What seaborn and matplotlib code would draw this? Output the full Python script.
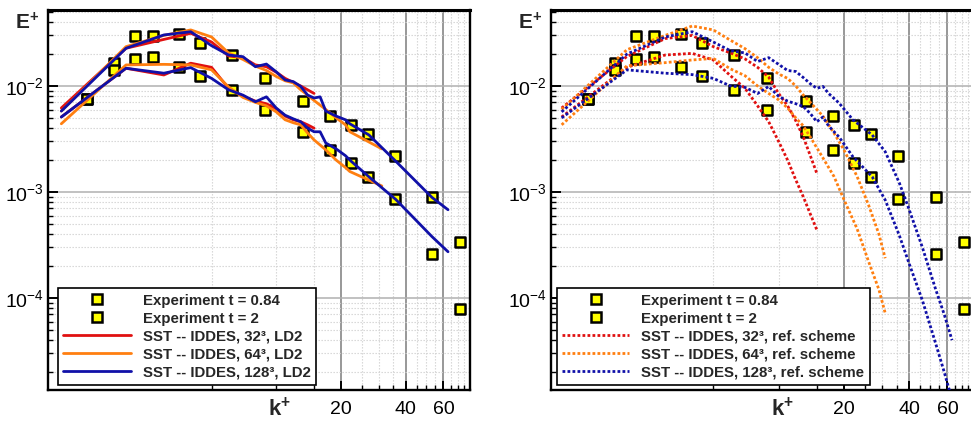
import numpy as np
import pandas as pd
import matplotlib
matplotlib.use("Agg")
import matplotlib.pyplot as plt
import seaborn as sns
from matplotlib.ticker import FixedLocator, NullFormatter, FixedFormatter
from matplotlib.lines import Line2D
from matplotlib.font_manager import FontProperties

# ---------------- data ----------------
k_exp = [1.32, 1.76, 2.21, 2.66, 3.54, 4.42, 6.22, 8.86, 13.36, 17.8, 22.3, 26.8, 35.6, 53.3, 71.4]
E_exp_084 = [0.00754, 0.01637, 0.0299, 0.0299, 0.0310, 0.0257, 0.01948, 0.01197, 0.00726, 0.00525,
             0.00432, 0.00350, 0.00219, 0.000903, 0.000335]
E_exp_2 = [0.00754, 0.01416, 0.0180, 0.01889, 0.0150, 0.0123, 0.0091, 0.00597, 0.00366, 0.00251,
           0.00189, 0.00139, 0.000853, 0.000258, 7.8e-5]

# left panel: LD2 scheme
k_32 = [1, 2, 3, 4, 5, 6, 7, 8, 9, 10, 11, 12, 13, 14, 15]
E32_084_ld2 = [0.0062, 0.0227, 0.0275, 0.0314, 0.0260, 0.0192, 0.0185, 0.0158, 0.0152, 0.0135,
               0.0118, 0.0108, 0.0100, 0.0092, 0.0085]
E32_2_ld2 = [0.0051, 0.0147, 0.0127, 0.0164, 0.0150, 0.0095, 0.0080, 0.0072, 0.0068, 0.0061,
             0.0052, 0.0048, 0.0046, 0.0043, 0.0040]

k_64 = [1, 2, 3, 4, 5, 6, 7, 8, 9, 10, 11, 12, 13, 14, 15, 17, 19, 21, 22, 31]
E64_084_ld2 = [0.0058, 0.0235, 0.0300, 0.0338, 0.0290, 0.0205, 0.0178, 0.0154, 0.0140, 0.0123,
               0.0112, 0.0107, 0.0092, 0.0082, 0.0073, 0.0060, 0.0050, 0.0043, 0.0037, 0.00255]
E64_2_ld2 = [0.0044, 0.0158, 0.0160, 0.0158, 0.0142, 0.0098, 0.0078, 0.0070, 0.0065, 0.0057,
             0.0048, 0.0045, 0.0043, 0.0036, 0.0031, 0.0025, 0.0020, 0.0017, 0.00156, 0.00114]

k_128 = [1, 2, 3, 4, 5, 6, 7, 8, 9, 10, 11, 12, 13, 14, 15, 16, 17, 19, 21, 22, 27, 36, 53, 63]
E128_084_ld2 = [0.0058, 0.0227, 0.0303, 0.0325, 0.0240, 0.0196, 0.0189, 0.0152, 0.0161, 0.0136,
                0.0114, 0.0110, 0.0099, 0.0082, 0.0077, 0.0079, 0.0058, 0.0052, 0.0048, 0.0044,
                0.00345, 0.00195, 0.00089, 0.00068]
E128_2_ld2 = [0.0051, 0.0147, 0.0132, 0.0149, 0.0118, 0.0092, 0.0082, 0.0071, 0.0079, 0.0062,
              0.0053, 0.0049, 0.0046, 0.0040, 0.0037, 0.0037, 0.0029, 0.00255, 0.0022, 0.0020,
              0.00139, 0.00085, 0.00038, 0.000273]

# right panel: reference scheme
k_32r = [1, 2, 3, 4, 5, 6, 7, 8, 9, 10, 11, 12, 13, 14, 15]
E32_084_ref = [0.0062, 0.0190, 0.0280, 0.0300, 0.0235, 0.0205, 0.0180, 0.0150, 0.0121, 0.0085,
               0.0065, 0.0047, 0.0033, 0.0022, 0.0015]
E32_2_ref = [0.0051, 0.0150, 0.0196, 0.0203, 0.0176, 0.0125, 0.0095, 0.0065, 0.0046, 0.0030,
             0.0020, 0.0013, 0.0009, 0.00062, 0.00044]

k_64r = [1, 2, 3, 4, 5, 6, 7, 8, 9, 10, 11, 12, 13, 14, 16, 18, 20, 23, 26, 29, 31]
E64_084_ref = [0.0060, 0.0220, 0.0300, 0.0368, 0.0338, 0.0270, 0.0225, 0.0185, 0.0150, 0.0130,
               0.0118, 0.0100, 0.0082, 0.0070, 0.0052, 0.0036, 0.0025, 0.0014, 0.00075, 0.00040,
               0.000237]
E64_2_ref = [0.0043, 0.0155, 0.0166, 0.0176, 0.0182, 0.0145, 0.0125, 0.0100, 0.0085, 0.0074,
             0.0062, 0.0050, 0.0042, 0.0033, 0.0021, 0.0014, 0.00085, 0.00045, 0.00022, 0.00012,
             7.2e-5]

k_128r = [1, 2, 3, 4, 5, 6, 7, 8, 9, 10, 11, 12, 13, 14, 15, 16, 17, 19, 22, 27, 31, 36, 40, 46,
          53, 58, 63]
E128_084_ref = [0.0057, 0.0200, 0.0290, 0.0325, 0.0260, 0.0215, 0.0205, 0.0170, 0.0185, 0.0160,
                0.0140, 0.0137, 0.0120, 0.0105, 0.0095, 0.0099, 0.0085, 0.0069, 0.0048, 0.00345,
                0.0024, 0.00122, 0.00068, 0.00030, 0.00012, 7.0e-5, 4.0e-5]
E128_2_ref = [0.0050, 0.0142, 0.0132, 0.0128, 0.0118, 0.0100, 0.0097, 0.0085, 0.0099, 0.0080,
              0.0072, 0.0068, 0.0064, 0.0055, 0.0046, 0.0051, 0.0042, 0.0033, 0.00215, 0.00139,
              0.00084, 0.00039, 0.00021, 9.5e-5, 3.7e-5, 2.0e-5, 1.1e-5]

x_major = [20, 40, 60]
x_major_labels = ["20", "40", "60"]
x_minor = [5, 10, 15, 25, 30, 35, 45, 50, 55, 65, 70, 75]
y_major = [1e-4, 1e-3, 1e-2]
y_major_labels = [r"$10^{-4}$", r"$10^{-3}$", r"$10^{-2}$"]

labels_left = ["Experiment t = 0.84", "Experiment t = 2",
               "SST -- IDDES, 32\u00b3, LD2", "SST -- IDDES, 64\u00b3, LD2",
               "SST -- IDDES, 128\u00b3, LD2"]
labels_right = ["Experiment t = 0.84", "Experiment t = 2",
                "SST -- IDDES, 32\u00b3, ref. scheme", "SST -- IDDES, 64\u00b3, ref. scheme",
                "SST -- IDDES, 128\u00b3, ref. scheme"]

RED = "#e01010"
ORANGE = "#ff7f10"
BLUE = "#1010a8"
YELLOW = "#ffff00"

# ---------------- style ----------------
sns.set_theme(style="ticks")
plt.rcParams["font.family"] = ["Liberation Sans", "DejaVu Sans"]
plt.rcParams["mathtext.fontset"] = "custom"
plt.rcParams["mathtext.rm"] = "Liberation Sans"
plt.rcParams["mathtext.it"] = "Liberation Sans:italic"
plt.rcParams["mathtext.bf"] = "Liberation Sans:bold"

W, H = 971, 423
fig = plt.figure(figsize=(W / 100, H / 100), dpi=100)


def px_axes(x0, y0, x1, y1):
    return fig.add_axes([x0 / W, 1 - y1 / H, (x1 - x0) / W, (y1 - y0) / H])


axL = px_axes(48, 10, 469.5, 390)
axR = px_axes(551, 10, 975, 390)

y_minor = [m * 10.0 ** e for e in range(-5, -1) for m in range(2, 10)]


def style_axes(ax, xlim):
    ax.set_xscale("log")
    ax.set_yscale("log")
    ax.set_xlim(*xlim)
    ax.set_ylim(1.355e-5, 0.0521)
    ax.xaxis.set_major_locator(FixedLocator(x_major))
    ax.xaxis.set_major_formatter(FixedFormatter(x_major_labels))
    ax.xaxis.set_minor_locator(FixedLocator(x_minor))
    ax.xaxis.set_minor_formatter(NullFormatter())
    ax.yaxis.set_major_locator(FixedLocator(y_major))
    ax.yaxis.set_major_formatter(FixedFormatter(y_major_labels))
    ax.yaxis.set_minor_locator(FixedLocator(y_minor))
    ax.yaxis.set_minor_formatter(NullFormatter())
    ax.grid(False)
    ax.xaxis.grid(True, which="major", color="#7c7c7c", lw=1.1, ls="-")
    ax.yaxis.grid(True, which="major", color="#b0b0b0", lw=1.1, ls="-")
    ax.grid(True, which="minor", color="#d2d2d2", lw=0.8, ls=(0, (1.2, 1.5)))
    ax.set_axisbelow(True)
    for side in ["left", "bottom", "right", "top"]:
        ax.spines[side].set_color("black")
        ax.spines[side].set_linewidth(1.7)
    ax.spines["top"].set_linewidth(2.2)
    ax.tick_params(which="both", direction="in", top=False, right=False,
                   bottom=True, left=True, colors="black")
    ax.tick_params(axis="x", which="major", length=6.5, width=1.4, labelsize=14, pad=8)
    ax.tick_params(axis="y", which="major", length=7.5, width=1.4, labelsize=14, pad=3)
    ax.tick_params(which="minor", length=3.5, width=1.0)
    ax.set_xlabel("")
    ax.set_ylabel("")


def add_line(ax, k, E, color, ls):
    df = pd.DataFrame({"k": k, "E": E})
    sns.lineplot(data=df, x="k", y="E", ax=ax, color=color, linewidth=2.0,
                 linestyle=ls, estimator=None, sort=False, legend=False, zorder=4,
                 dash_capstyle="butt")


def add_exp(ax):
    for E in (E_exp_084, E_exp_2):
        df = pd.DataFrame({"k": k_exp, "E": E})
        sns.scatterplot(data=df, x="k", y="E", ax=ax, marker="s", s=52, color=YELLOW,
                        edgecolor="black", linewidth=1.8, zorder=3, legend=False,
                        joinstyle="round")


dotted = (0, (1.0, 0.8))

add_exp(axL)
add_line(axL, k_32, E32_084_ld2, RED, "-")
add_line(axL, k_32, E32_2_ld2, RED, "-")
add_line(axL, k_64, E64_084_ld2, ORANGE, "-")
add_line(axL, k_64, E64_2_ld2, ORANGE, "-")
add_line(axL, k_128, E128_084_ld2, BLUE, "-")
add_line(axL, k_128, E128_2_ld2, BLUE, "-")

add_exp(axR)
add_line(axR, k_32r, E32_084_ref, RED, dotted)
add_line(axR, k_32r, E32_2_ref, RED, dotted)
add_line(axR, k_64r, E64_084_ref, ORANGE, dotted)
add_line(axR, k_64r, E64_2_ref, ORANGE, dotted)
add_line(axR, k_128r, E128_084_ref, BLUE, dotted)
add_line(axR, k_128r, E128_2_ref, BLUE, dotted)

style_axes(axL, (0.867, 79.3))
style_axes(axR, (0.893, 80.4))


def add_legend(ax, labels, ls, x0):
    mk = dict(marker="s", ls="none", mfc=YELLOW, mec="black", ms=7, mew=1.8)
    handles = [Line2D([], [], **mk), Line2D([], [], **mk),
               Line2D([], [], color=RED, lw=2.0, ls=ls),
               Line2D([], [], color=ORANGE, lw=2.0, ls=ls),
               Line2D([], [], color=BLUE, lw=2.0, ls=ls)]
    leg = ax.legend(handles, labels, loc="lower left", bbox_to_anchor=(x0, 0.0132),
                    prop=FontProperties(family="Liberation Sans", weight="bold", size=10.8),
                    frameon=True, fancybox=False, edgecolor="black", framealpha=1,
                    borderpad=0.35, labelspacing=0.27, handlelength=4.5, handletextpad=0.8,
                    borderaxespad=0)
    leg.get_frame().set_linewidth(1.2)
    leg.set_zorder(10)


add_legend(axL, labels_left, "-", 0.0237)
add_legend(axR, labels_right, dotted, 0.0134)

fig.text(15 / W, 1 - 29 / H, r"$\mathbf{E^{+}}$", ha="left", va="baseline", fontsize=15)
fig.text(518 / W, 1 - 29 / H, r"$\mathbf{E^{+}}$", ha="left", va="baseline", fontsize=15)
fig.text(268 / W, 1 - 416 / H, r"$\mathbf{k^{+}}$", ha="left", va="baseline", fontsize=16)
fig.text(771 / W, 1 - 416 / H, r"$\mathbf{k^{+}}$", ha="left", va="baseline", fontsize=16)

fig.savefig("out.png", dpi=100)
